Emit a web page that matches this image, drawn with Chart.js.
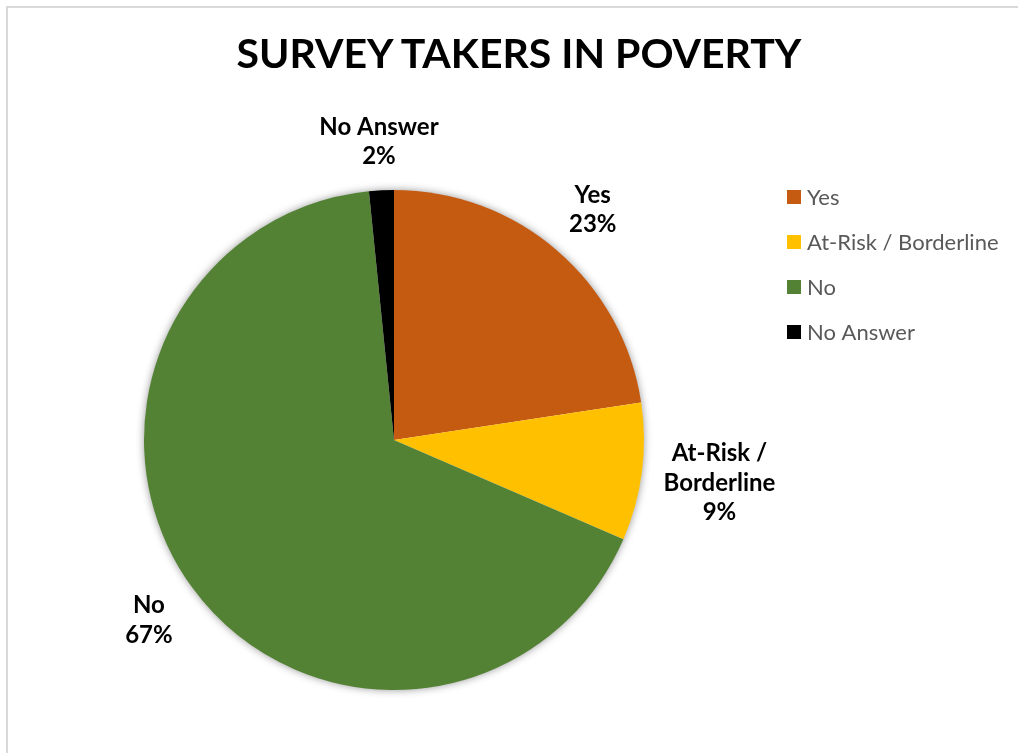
<!DOCTYPE html>
<html>
<head>
<meta charset="utf-8">
<script src="https://cdn.jsdelivr.net/npm/chart.js@4/dist/chart.umd.min.js"></script>
<style>
  html, body { margin: 0; padding: 0; background: #fff; overflow: hidden; width: 1018px; height: 753px; }
  #frame { position: absolute; left: 6px; top: 6px; width: 1100px; height: 800px; border: 2px solid #d9d9d9; box-sizing: border-box; }
  #title { position: absolute; left: 0; top: 28px; width: 1038px; text-align: center; font: bold 41px/1.2 Lato, "Open Sans", sans-serif; color: #000; margin: 0; white-space: nowrap; }
  #wrap { position: absolute; left: 0; top: 0; width: 1018px; height: 753px; }
</style>
</head>
<body>
<div id="frame"></div>
<div id="wrap"><canvas id="c"></canvas></div>
<div id="title"></div>
<script>
const titleText = 'SURVEY TAKERS IN POVERTY';
const categories = ['Yes', 'At-Risk / Borderline', 'No', 'No Answer'];
const values = [22.6, 8.9, 66.9, 1.6];
const colors = ['#C55A11', '#FFC000', '#548235', '#000000'];

const FONT = 'Lato, "Open Sans", sans-serif';
document.getElementById('title').textContent = titleText;

const shadowPlugin = {
  id: 'pieShadow',
  beforeDatasetsDraw(chart) {
    const arc = chart.getDatasetMeta(0).data[0];
    if (!arc) return;
    const {x, y, outerRadius} = arc.getProps(['x', 'y', 'outerRadius'], true);
    const ctx = chart.ctx;
    ctx.save();
    ctx.shadowColor = 'rgba(0,0,0,0.45)';
    ctx.shadowBlur = 9;
    ctx.shadowOffsetX = 0;
    ctx.shadowOffsetY = 0;
    ctx.fillStyle = '#ffffff';
    ctx.beginPath();
    ctx.arc(x, y, outerRadius - 0.5, 0, Math.PI * 2);
    ctx.fill();
    ctx.restore();
  }
};

function wrapText(ctx, text, maxW) {
  const words = text.split(' ');
  const lines = [];
  let cur = '';
  for (const w of words) {
    const t = cur ? cur + ' ' + w : w;
    if (cur && ctx.measureText(t).width > maxW) { lines.push(cur); cur = w; }
    else cur = t;
  }
  if (cur) lines.push(cur);
  return lines;
}

const labelPlugin = {
  id: 'outsideLabels',
  afterDatasetsDraw(chart) {
    const ctx = chart.ctx;
    const meta = chart.getDatasetMeta(0);
    const data = chart.data.datasets[0].data;
    const total = data.reduce((a, b) => a + b, 0);
    const lh = 29.5, gap = 17;
    ctx.save();
    ctx.font = 'bold 24px ' + FONT;
    ctx.fillStyle = '#000';
    ctx.textAlign = 'center';
    ctx.textBaseline = 'middle';
    meta.data.forEach((arc, i) => {
      const p = arc.getProps(['x', 'y', 'startAngle', 'endAngle', 'outerRadius'], true);
      const mid = (p.startAngle + p.endAngle) / 2;
      const ux = Math.cos(mid), uy = Math.sin(mid);
      const lines = wrapText(ctx, chart.data.labels[i], 130);
      lines.push(Math.round(data[i] / total * 100) + '%');
      const w = Math.max(...lines.map(l => ctx.measureText(l).width));
      const h = lines.length * lh;
      const d = p.outerRadius + gap + Math.abs(ux) * w / 2 + Math.abs(uy) * h / 2;
      const cx = p.x + ux * d, cy = p.y + uy * d;
      lines.forEach((l, k) => {
        ctx.fillText(l, cx, cy - h / 2 + lh * (k + 0.5) + 1);
      });
    });
    ctx.restore();
  }
};

const legendPlugin = {
  id: 'sideLegend',
  afterDraw(chart) {
    const ctx = chart.ctx;
    const ca = chart.chartArea;
    const ds = chart.data.datasets[0];
    const x0 = ca.right - 1, y0 = ca.top + 7, step = 45, box = 14;
    ctx.save();
    ctx.font = '22px ' + FONT;
    ctx.textBaseline = 'middle';
    ctx.textAlign = 'left';
    chart.data.labels.forEach((lab, i) => {
      const yc = y0 + i * step;
      ctx.fillStyle = ds.backgroundColor[i];
      ctx.fillRect(x0, yc - box / 2, box, box);
      ctx.fillStyle = '#595959';
      ctx.fillText(lab, x0 + box + 6, yc + 1);
    });
    ctx.restore();
  }
};

new Chart(document.getElementById('c'), {
  type: 'pie',
  data: {
    labels: categories,
    datasets: [{
      data: values,
      backgroundColor: colors,
      borderWidth: 0,
      hoverOffset: 0
    }]
  },
  options: {
    responsive: true,
    maintainAspectRatio: false,
    animation: false,
    events: [],
    layout: { padding: { left: 0, right: 230, top: 190, bottom: 63 } },
    plugins: {
      legend: { display: false },
      tooltip: { enabled: false },
      title: { display: false }
    }
  },
  plugins: [shadowPlugin, labelPlugin, legendPlugin]
});
</script>
</body>
</html>
